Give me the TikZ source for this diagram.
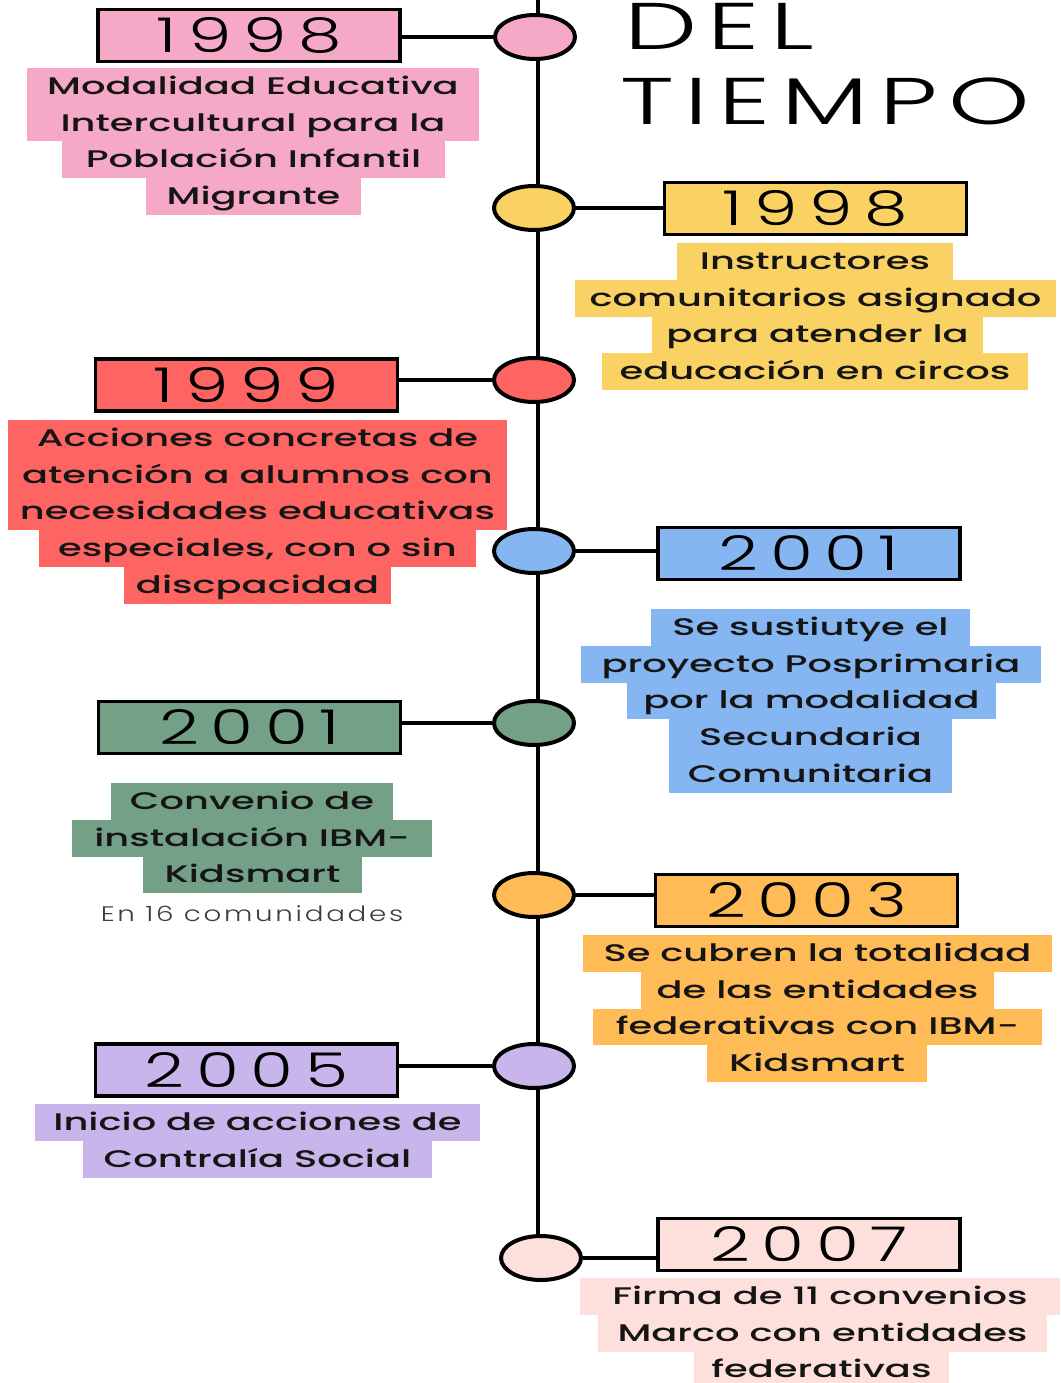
\documentclass[tikz,border=0pt]{standalone}
\usepackage{fontspec}
\usetikzlibrary{shapes.geometric}
\IfFontExistsTF{Poppins Medium}
  {\newfontfamily\descfont{Poppins Medium}[FakeStretch=1.6]}
  {\newfontfamily\descfont{Poppins}[FakeStretch=1.6,FakeBold=1.2]}
\IfFontExistsTF{Poppins Light}
  {\newfontfamily\thinfont{Poppins Light}[FakeStretch=1.45]}
  {\newfontfamily\thinfont{Poppins}[FakeStretch=1.45]}
\newcommand{\yearfont}{\thinfont\addfontfeatures{LetterSpace=24}}
\newcommand{\titlefont}{\thinfont\addfontfeatures{FakeStretch=1.57,LetterSpace=16}}
\newcommand{\notefont}{\thinfont\addfontfeatures{FakeStretch=1.32,LetterSpace=13}}
\definecolor{cpink}{HTML}{F6A9C7}
\definecolor{cyel}{HTML}{F9D263}
\definecolor{cred}{HTML}{FE6562}
\definecolor{cblue}{HTML}{86B6F1}
\definecolor{cgreen}{HTML}{74A088}
\definecolor{corange}{HTML}{FEBB56}
\definecolor{cpurple}{HTML}{C8B5EB}
\definecolor{crose}{HTML}{FDE0DB}
\definecolor{ink}{HTML}{151515}
\definecolor{notegray}{HTML}{3C3C3C}
\tikzset{
  dot/.style={ellipse, draw=black, line width=4pt, minimum width=80pt, minimum height=44pt, inner sep=0pt},
  yearbox/.style={draw=black, line width=3.5pt, minimum width=302pt, minimum height=52pt, inner sep=0pt,
    font=\fontsize{48}{48}\yearfont},
  hl/.style={inner sep=0pt, minimum height=36.75pt, text height=19pt, text depth=3pt, text=ink,
    font=\descfont\fontsize{24}{24}\selectfont},
  link/.style={line width=3.5pt},
  spine/.style={line width=4.5pt},
  ttl/.style={anchor=base west, inner sep=0pt, font=\fontsize{66}{66}\titlefont},
  note/.style={inner sep=0pt, text=notegray, font=\fontsize{21}{21}\notefont},
}
% #1 name, #2 colour, #3 top edge, #4 left/right/text per line
\newcommand{\hlines}[4]{%
  \foreach \xa/\xb/\txt [count=\i] in {#4}
    \node[hl, fill=#2, minimum width={(\xb-\xa)*1pt}] (#1-\i)
      at ({(\xa+\xb)/2}, {#3+(\i-0.5)*36.75}) {\txt};}

\begin{document}
\begin{tikzpicture}[x=1pt,y=-1pt]
\useasboundingbox (0,0) rectangle (1060,1383);

% title
\node[ttl] (del) at (624,50) {DEL};
\node[ttl] (tiempo) at (620,125) {TIEMPO};

% spine
\coordinate (top) at (538,0);
\coordinate (bot) at (538,1240);
\draw[spine] (top) -- (bot);

% dots
\node[dot, fill=cpink] (d1) at (535,37) {};
\node[dot, fill=cyel] (d2) at (534,208) {};
\node[dot, fill=cred] (d3) at (534,380) {};
\node[dot, fill=cblue] (d4) at (534,551) {};
\node[dot, fill=cgreen] (d5) at (534,723) {};
\node[dot, fill=corange] (d6) at (534,895) {};
\node[dot, fill=cpurple] (d7) at (534,1066) {};
\node[dot, fill=crose] (d8) at (541,1258) {};

% years
\node[yearbox, fill=cpink] (y1) at (249,35.5) {1998};
\node[yearbox, fill=cyel] (y2) at (815.5,208.5) {1998};
\node[yearbox, fill=cred] (y3) at (246.5,385) {1999};
\node[yearbox, fill=cblue] (y4) at (809,553.5) {2001};
\node[yearbox, fill=cgreen] (y5) at (249.5,727.5) {2001};
\node[yearbox, fill=corange] (y6) at (806.5,900.5) {2003};
\node[yearbox, fill=cpurple] (y7) at (246.5,1070) {2005};
\node[yearbox, fill=crose] (y8) at (809,1244.5) {2007};

\foreach \n in {1,3,5,7}
  \draw[link] (d\n.west) -- (d\n.west -| y\n.east);
\foreach \n in {2,4,6,8}
  \draw[link] (d\n.east) -- (d\n.east -| y\n.west);

% descriptions
\hlines{t1}{cpink}{68}{27/479/Modalidad Educativa, 27/479/Intercultural para la,
  62/445/Población Infantil, 146/361/Migrante}
\hlines{t2}{cyel}{243}{677/953/Instructores, 575/1056/comunitarios asignado,
  652/983/para atender la, 602/1028/educación en circos}
\hlines{t3}{cred}{420}{8/507/Acciones concretas de, 8/507/atención a alumnos con,
  8/507/necesidades educativas, 39/476/{especiales, con o sin}, 124/391/discpacidad}
\hlines{t4}{cblue}{609}{651/970/Se sustiutye el, 581/1041/proyecto Posprimaria,
  627/996/por la modalidad, 669/952/Secundaria, 669/952/Comunitaria}
\hlines{t5}{cgreen}{783}{111/393/Convenio de, 72/432/instalación IBM-, 143/362/Kidsmart}
\hlines{t6}{corange}{935}{583/1052/Se cubren la totalidad, 641/994/de las entidades,
  593/1042/federativas con IBM-, 707/927/Kidsmart}
\hlines{t7}{cpurple}{1104}{35/480/Inicio de acciones de, 83/432/Contralía Social}
\hlines{t8}{crose}{1278}{580/1060/Firma de 11 convenios, 598/1047/Marco con entidades,
  694/949/federativas}

\node[note] (n16) at (252,914) {En 16 comunidades};
\end{tikzpicture}
\end{document}
